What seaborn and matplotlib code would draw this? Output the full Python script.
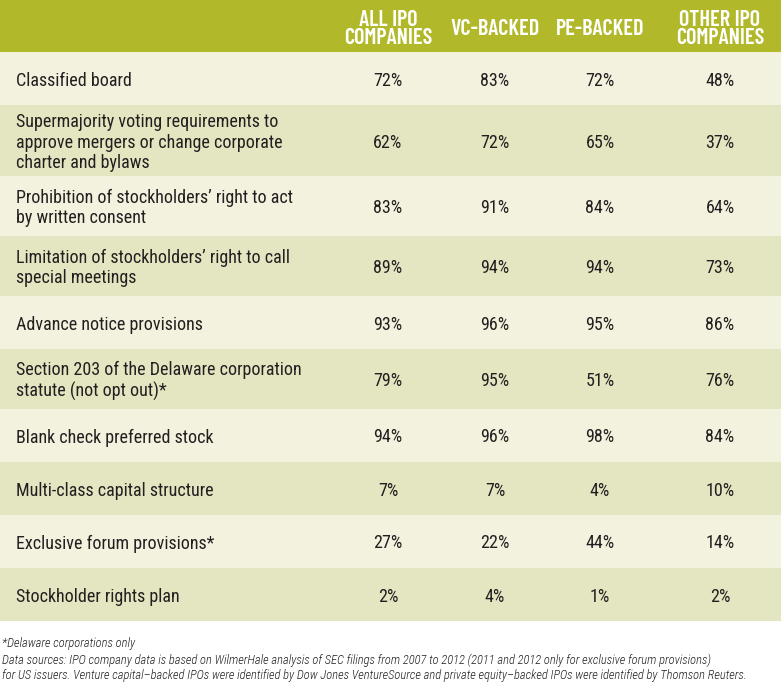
import matplotlib.pyplot as plt
import seaborn as sns

# Datos de la tabla
provisiones = [
    'Classified board',
    'Supermajority voting requirements to\napprove mergers or change corporate\ncharter and bylaws',
    'Prohibition of stockholders\u2019 right to act\nby written consent',
    'Limitation of stockholders\u2019 right to call\nspecial meetings',
    'Advance notice provisions',
    'Section 203 of the Delaware corporation\nstatute (not opt out)*',
    'Blank check preferred stock',
    'Multi-class capital structure',
    'Exclusive forum provisions*',
    'Stockholder rights plan',
]
columnas = ['ALL IPO\nCOMPANIES', 'VC-BACKED', 'PE-BACKED', 'OTHER IPO\nCOMPANIES']
todas_ipo = [72, 62, 83, 89, 93, 79, 94, 7, 27, 2]
vc = [83, 72, 91, 94, 96, 95, 96, 7, 22, 4]
pe = [72, 65, 84, 94, 95, 51, 98, 4, 44, 1]
otras_ipo = [48, 37, 64, 73, 86, 76, 84, 10, 14, 2]
notas = [
    '*Delaware corporations only',
    'Data sources: IPO company data is based on WilmerHale analysis of SEC filings from 2007 to 2012 (2011 and 2012 only for exclusive forum provisions)',
    'for US issuers. Venture capital\u2013backed IPOs were identified by Dow Jones VentureSource and private equity\u2013backed IPOs were identified by Thomson Reuters.',
]

sns.set_theme(style='white')
plt.rcParams['font.family'] = ['Roboto Condensed', 'Archivo Narrow', 'DejaVu Sans']

verde = '#b1b92a'
crema = '#f3f2de'
verde_claro = '#e4e6c1'
tinta = '#231f20'

fig = plt.figure(figsize=(7.84, 6.90), dpi=100)
ax = fig.add_axes([0, 0, 1, 1])
ax.set_xlim(0, 784)
ax.set_ylim(690, 0)
ax.axis('off')

ancho = 781
x_cols = [388, 495, 600, 720]
alto_cab = 52

# Cabecera
ax.barh(alto_cab / 2, ancho, height=alto_cab, left=0, color=verde, linewidth=0)
for x, col in zip(x_cols, columnas):
    ax.text(x, alto_cab / 2 + 3, col, ha='center', va='center', color='white',
            fontsize=16, fontweight='semibold', linespacing=0.9,
            family=['Barlow Condensed', 'Roboto Condensed', 'DejaVu Sans'])

# Filas
valores = list(zip(todas_ipo, vc, pe, otras_ipo))
alturas = {1: 53, 2: 60, 3: 71}
y = alto_cab
for i, (prov, vals) in enumerate(zip(provisiones, valores)):
    h = alturas[prov.count('\n') + 1]
    yc = y + h / 2
    ax.barh(yc, ancho, height=h, left=0, color=crema if i % 2 == 0 else verde_claro,
            linewidth=0)
    ax.text(16, yc + 2, prov, ha='left', va='center', color=tinta,
            fontsize=13, linespacing=1.2)
    for x, v in zip(x_cols, vals):
        ax.text(x, yc + 2, f'{v}%', ha='center', va='center', color=tinta,
                fontsize=13)
    y += h

# Notas
for j, nota in enumerate(notas):
    ax.text(2, 644 + j * 16, nota, ha='left', va='center', color=tinta,
            fontsize=9, style='italic', fontweight='light')

plt.savefig('out.png', dpi=100)
